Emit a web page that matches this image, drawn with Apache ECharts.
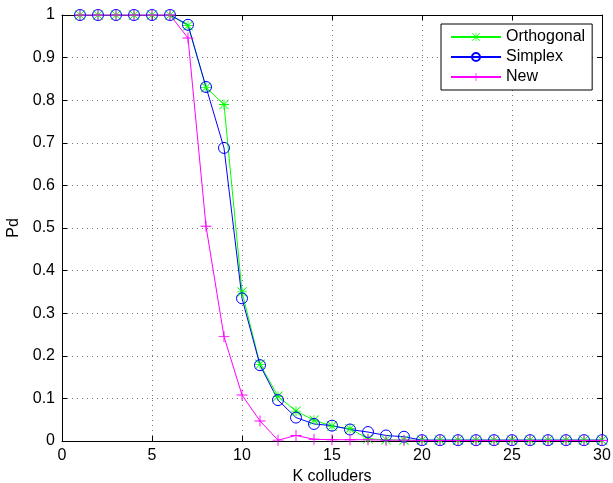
<!DOCTYPE html>
<html>
<head>
<meta charset="utf-8">
<script src="https://cdn.jsdelivr.net/npm/echarts@6/dist/echarts.min.js"></script>
<style>
html, body { margin: 0; padding: 0; background: #fff; }
#main { width: 613px; height: 483px; }
</style>
</head>
<body>
<div id="main"></div>
<script>
// K colluders
var kValues = [1, 2, 3, 4, 5, 6, 7, 8, 9, 10, 11, 12, 13, 14, 15, 16, 17, 18, 19, 20, 21, 22, 23, 24, 25, 26, 27, 28, 29, 30];
var orthogonal = [1, 1, 1, 1, 1, 1, 0.975, 0.83, 0.79, 0.35, 0.18, 0.105, 0.07, 0.049, 0.035, 0.029, 0.005, 0.003, 0.002, 0.002, 0.002, 0.002, 0.002, 0.002, 0.002, 0.002, 0.002, 0.002, 0.002, 0.002];
var simplex = [1, 1, 1, 1, 1, 1, 0.977, 0.831, 0.688, 0.335, 0.178, 0.096, 0.055, 0.04, 0.036, 0.027, 0.021, 0.013, 0.01, 0.002, 0.002, 0.002, 0.002, 0.002, 0.002, 0.002, 0.002, 0.002, 0.002, 0.002];
var newScheme = [1, 1, 1, 1, 1, 1, 0.946, 0.504, 0.245, 0.108, 0.047, 0.002, 0.013, 0.004, 0.003, 0.003, 0.003, 0.002, 0.002, 0.001, 0.001, 0.001, 0.001, 0.001, 0.001, 0.001, 0.001, 0.001, 0.001, 0.001];
var seriesNames = ['Orthogonal', 'Simplex', 'New'];

var FONT = 'Liberation Sans, Arial, Helvetica, sans-serif';

// matlab style markers
var starPath = 'path://M5.5,0H6.5V12H5.5Z M0,5.5H12V6.5H0Z M0.7,0L12,11.3L11.3,12L0,0.7Z M11.3,0L12,0.7L0.7,12L0,11.3Z';
var plusPath = 'path://M5.5,0H6.5V12H5.5Z M0,5.5H12V6.5H0Z';

function pairs(ys) {
    return kValues.map(function (k, i) { return [k, ys[i]]; });
}

var gridLine = { show: true, lineStyle: { color: '#777', width: 1, type: [1, 4] } };

var myChart = echarts.init(document.getElementById('main'), null, { renderer: 'canvas' });
var option = {
    animation: false,
    backgroundColor: '#fff',
    textStyle: { fontFamily: FONT },
    grid: { left: 62, right: 11, top: 15, bottom: 42, containLabel: false, outerBoundsMode: 'none' },
    legend: {
        data: seriesNames,
        orient: 'vertical',
        left: 441,
        top: 24,
        itemWidth: 50,
        itemHeight: 10,
        itemGap: 4,
        padding: [5, 7, 5, 9],
        borderColor: '#000',
        borderWidth: 1,
        backgroundColor: '#fff',
        textStyle: { fontFamily: FONT, fontSize: 16, color: '#000', padding: [0, 0, 0, 0] }
    },
    xAxis: [{
        type: 'value', min: 0, max: 30, interval: 5,
        name: 'K colluders', nameLocation: 'middle', nameGap: 26,
        nameTextStyle: { fontFamily: FONT, fontSize: 16, color: '#000' },
        axisLine: { show: true, onZero: false, lineStyle: { color: '#000', width: 1 } },
        axisTick: { show: true, inside: true, length: 5, lineStyle: { color: '#000' } },
        axisLabel: { fontFamily: FONT, fontSize: 16, color: '#000', margin: 7 },
        splitLine: gridLine
    }, {
        type: 'value', min: 0, max: 30, interval: 5, position: 'top',
        axisLine: { show: true, onZero: false, lineStyle: { color: '#000', width: 1 } },
        axisTick: { show: true, inside: true, length: 5, lineStyle: { color: '#000' } },
        axisLabel: { show: false },
        splitLine: { show: false }
    }],
    yAxis: [{
        type: 'value', min: 0, max: 1, interval: 0.1,
        name: 'Pd', nameLocation: 'middle', nameGap: 39,
        nameTextStyle: { fontFamily: FONT, fontSize: 16, color: '#000' },
        axisLine: { show: true, onZero: false, lineStyle: { color: '#000', width: 1 } },
        axisTick: { show: true, inside: true, length: 5, lineStyle: { color: '#000' } },
        axisLabel: { fontFamily: FONT, fontSize: 16, color: '#000', margin: 7 },
        splitLine: gridLine
    }, {
        type: 'value', min: 0, max: 1, interval: 0.1, position: 'right',
        axisLine: { show: true, onZero: false, lineStyle: { color: '#000', width: 1 } },
        axisTick: { show: true, inside: true, length: 5, lineStyle: { color: '#000' } },
        axisLabel: { show: false },
        splitLine: { show: false }
    }],
    series: [{
        name: 'Orthogonal', type: 'line', data: pairs(orthogonal),
        symbol: starPath, symbolSize: 10,
        itemStyle: { color: '#00ff00' },
        lineStyle: { color: '#00ff00', width: 1 }
    }, {
        name: 'Simplex', type: 'line', data: pairs(simplex),
        symbol: 'circle', symbolSize: 11,
        itemStyle: { color: 'rgba(0,0,0,0)', borderColor: '#0000ff', borderWidth: 1 },
        lineStyle: { color: '#0000ff', width: 1 }
    }, {
        name: 'New', type: 'line', data: pairs(newScheme),
        symbol: plusPath, symbolSize: 11,
        itemStyle: { color: '#ff00ff' },
        lineStyle: { color: '#ff00ff', width: 1 }
    }]
};
myChart.setOption(option);
</script>
</body>
</html>
